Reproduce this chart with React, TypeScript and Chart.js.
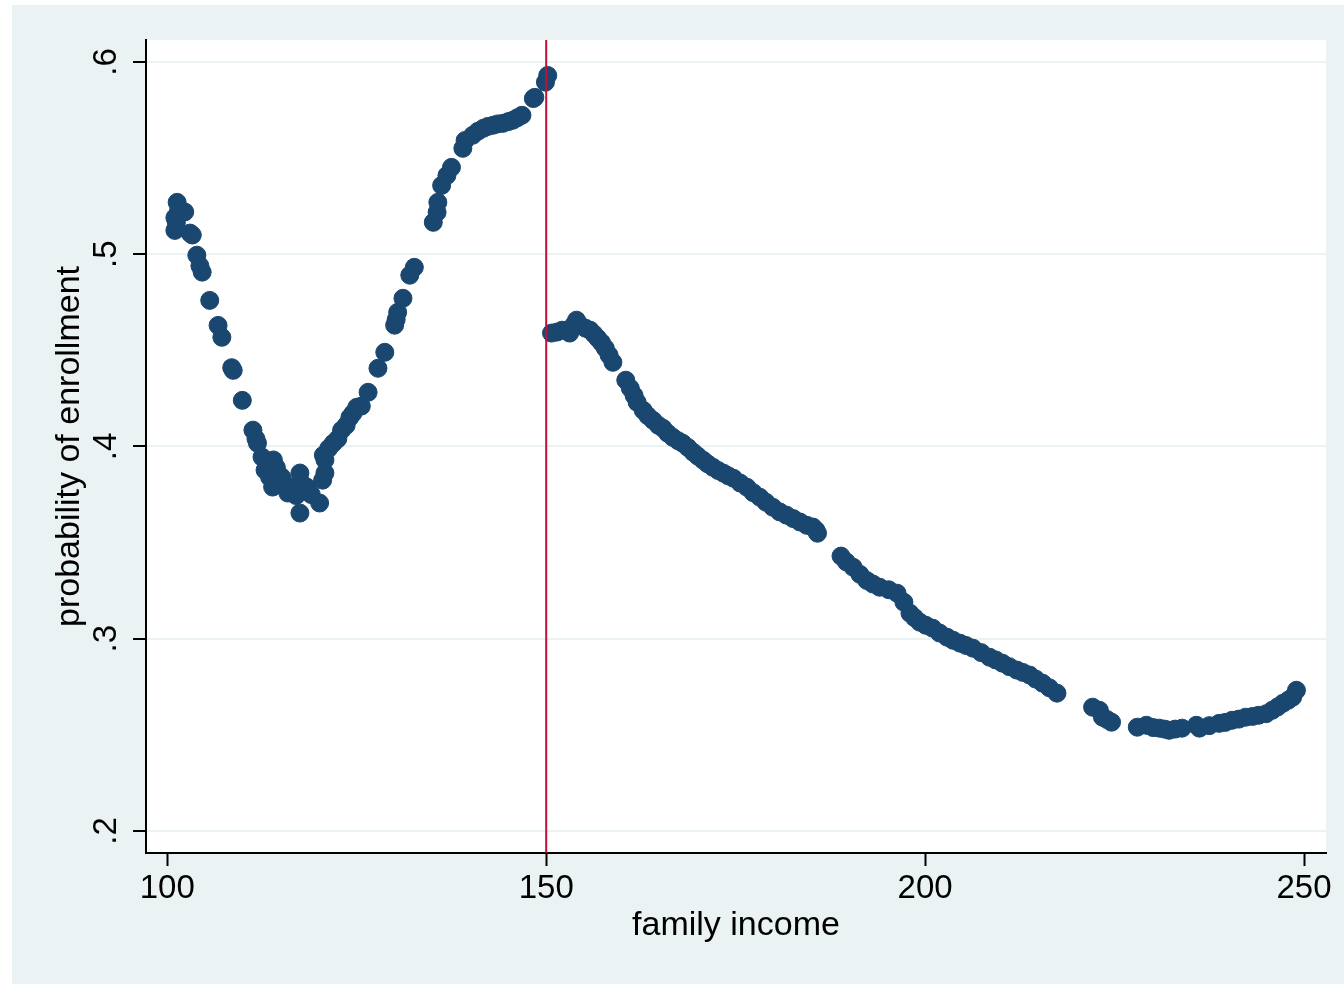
import React, { useEffect, useRef } from "react";
import { Chart, registerables } from "chart.js";

Chart.register(...registerables);

// Family income (x) and probability of enrollment (y), below the 150 cutoff
const incomeLeft = [
  101.0, 101.0, 101.2, 101.3, 101.5, 101.9, 102.3, 103.0, 103.3, 103.9, 104.3, 104.6,
  105.6, 106.7, 107.2, 108.5, 108.7, 109.9, 111.3, 111.7, 111.9, 112.5, 112.9, 113.5,
  113.9, 114.0, 114.4, 115.1, 115.5, 115.9, 116.5, 117.0, 117.5, 117.5, 117.7, 118.0,
  118.4, 119.0, 120.1, 120.5, 120.6, 120.8, 120.8, 121.3, 121.9, 122.5, 123.0, 123.6,
  124.1, 124.5, 125.0, 125.6, 126.5, 127.8, 128.7, 130.0, 130.2, 130.4, 131.1, 132.0,
  132.6, 135.1, 135.6, 135.7, 136.2, 136.9, 137.5, 139.0, 139.3, 140.3, 141.0, 141.7,
  142.3, 143.0, 143.6, 144.3, 145.0, 145.6, 146.2, 146.8, 148.3, 148.5, 149.9, 150.2,
];
const probLeft = [
  0.519, 0.5124, 0.5165, 0.527, 0.523, 0.5225, 0.522, 0.511, 0.51, 0.4995, 0.494, 0.4907,
  0.476, 0.463, 0.4568, 0.441, 0.4396, 0.424, 0.4085, 0.404, 0.4017, 0.3945, 0.3877, 0.384,
  0.3789, 0.393, 0.389, 0.3841, 0.38, 0.3758, 0.379, 0.3745, 0.3862, 0.3654, 0.381, 0.377,
  0.3789, 0.375, 0.3706, 0.3825, 0.3955, 0.3862, 0.393, 0.399, 0.4017, 0.404, 0.4085, 0.411,
  0.4152, 0.4173, 0.4204, 0.421, 0.4282, 0.4407, 0.449, 0.4631, 0.466, 0.4698, 0.4771, 0.4891,
  0.4932, 0.5166, 0.5218, 0.527, 0.5358, 0.541, 0.5452, 0.5551, 0.5592, 0.5619, 0.564, 0.5655,
  0.5665, 0.5671, 0.5678, 0.5681, 0.569, 0.5697, 0.571, 0.5723, 0.581, 0.5816, 0.5895, 0.593,
];

// Above the 150 cutoff
const incomeRight = [
  150.7, 151.4, 152.1, 152.7, 153.1, 153.6, 154.0, 154.5, 155.2, 155.8, 156.3, 156.8,
  157.3, 157.8, 158.3, 158.8, 160.5, 161.1, 161.6, 162.0, 162.8, 163.4, 164.1, 164.8,
  165.4, 166.0, 166.7, 167.4, 168.0, 168.7, 169.4, 170.0, 170.7, 171.3, 172.0, 172.7,
  173.4, 174.0, 174.7, 175.6, 176.5, 177.3, 178.2, 179.0, 179.9, 180.8, 181.7, 182.6,
  183.5, 184.4, 185.2, 185.6, 185.8, 188.9, 189.6, 190.5, 191.4, 192.3, 193.1, 194.0,
  195.2, 196.3, 197.2, 198.0, 198.6, 199.3, 200.1, 201.0, 201.9, 202.9, 203.7, 204.6,
  205.4, 206.3, 207.4, 208.5, 209.3, 210.2, 211.1, 212.1, 212.9, 213.8, 214.6, 215.5,
  216.4, 217.4, 222.1, 223.0, 223.4, 224.0, 224.6, 228.0, 229.2, 230.1, 230.9, 231.6,
  232.2, 233.0, 233.9, 235.8, 236.2, 237.5, 238.8, 239.6, 240.5, 241.4, 242.3, 243.2,
  244.0, 245.0, 245.8, 246.5, 247.2, 247.9, 248.5, 249.0,
];
const probRight = [
  0.459, 0.4595, 0.4605, 0.4605, 0.459, 0.463, 0.4657, 0.463, 0.4615, 0.4605, 0.4585, 0.4563,
  0.454, 0.4511, 0.4475, 0.4438, 0.4345, 0.4303, 0.4265, 0.423, 0.4188, 0.416, 0.4136, 0.411,
  0.4095, 0.407, 0.4048, 0.403, 0.4017, 0.3995, 0.397, 0.395, 0.3929, 0.391, 0.3892, 0.3875,
  0.3861, 0.3848, 0.3835, 0.381, 0.3788, 0.376, 0.3736, 0.371, 0.3684, 0.366, 0.3643, 0.3625,
  0.3607, 0.359, 0.3581, 0.3565, 0.3549, 0.343, 0.34, 0.3372, 0.3335, 0.3303, 0.3285, 0.3268,
  0.3255, 0.3237, 0.319, 0.3133, 0.311, 0.3086, 0.307, 0.3055, 0.303, 0.3008, 0.2992, 0.2977,
  0.2965, 0.2951, 0.2928, 0.2904, 0.289, 0.2873, 0.2855, 0.2837, 0.2825, 0.2811, 0.279, 0.2769,
  0.2745, 0.2717, 0.2644, 0.2628, 0.2592, 0.258, 0.2566, 0.254, 0.255, 0.2538, 0.2535, 0.253,
  0.2524, 0.253, 0.2535, 0.255, 0.2535, 0.2548, 0.256, 0.2565, 0.2576, 0.2582, 0.2592, 0.2596,
  0.2602, 0.261, 0.2628, 0.2645, 0.2664, 0.268, 0.2696, 0.2732,
];

const xTicks = [100, 150, 200, 250];
const yTicks = [0.2, 0.3, 0.4, 0.5, 0.6];
const yTickLabels = [".2", ".3", ".4", ".5", ".6"];
const cutoff = 150;
const xTitle = "family income";
const yTitle = "probability of enrollment";

const FONT = '"Liberation Sans", Arial, Helvetica, sans-serif';
const NAVY = "#1A476F";
const GRID = "#EAF2F3";
const BG = "#EAF2F3";
const RED = "#C20F35";

const framePlugin = {
  id: "frame",
  beforeDraw(chart: any) {
    const ctx = chart.ctx;
    const a = chart.chartArea;
    ctx.save();
    ctx.fillStyle = "#ffffff";
    ctx.fillRect(0, 0, chart.width, chart.height);
    ctx.fillStyle = BG;
    ctx.fillRect(12, 5, chart.width - 12, chart.height - 5);
    ctx.fillStyle = "#ffffff";
    ctx.fillRect(a.left, a.top, a.right - a.left, a.bottom - a.top);
    ctx.restore();
  },
  afterDatasetsDraw(chart: any) {
    const ctx = chart.ctx;
    const a = chart.chartArea;
    const x = chart.scales.x.getPixelForValue(cutoff);
    ctx.save();
    ctx.strokeStyle = RED;
    ctx.lineWidth = 2;
    ctx.beginPath();
    ctx.moveTo(x, a.top);
    ctx.lineTo(x, a.bottom);
    ctx.stroke();
    ctx.restore();
  },
  afterDraw(chart: any) {
    const ctx = chart.ctx;
    const a = chart.chartArea;
    const xs = chart.scales.x;
    const ys = chart.scales.y;
    ctx.save();
    ctx.fillStyle = "#000";
    ctx.font = `33px ${FONT}`;
    ctx.textAlign = "center";
    ctx.textBaseline = "alphabetic";
    xTicks.forEach((v) => {
      ctx.fillText(String(v), xs.getPixelForValue(v), 898);
    });
    yTicks.forEach((v, i) => {
      const py = ys.getPixelForValue(v);
      ctx.save();
      ctx.translate(116, py);
      ctx.rotate(-Math.PI / 2);
      ctx.fillText(yTickLabels[i], 0, 0);
      ctx.restore();
    });
    ctx.font = `34px ${FONT}`;
    ctx.fillText(xTitle, (a.left + a.right) / 2, 935);
    ctx.save();
    ctx.translate(79, (a.top + a.bottom) / 2);
    ctx.rotate(-Math.PI / 2);
    ctx.fillText(yTitle, 0, 0);
    ctx.restore();
    ctx.restore();
  },
};

export default function App() {
  const ref = useRef<HTMLCanvasElement | null>(null);
  useEffect(() => {
    if (!ref.current) return;
    const toPts = (xs: number[], ys: number[]) => xs.map((x, i) => ({ x, y: ys[i] }));
    const chart = new Chart(ref.current, {
      type: "scatter",
      data: {
        datasets: [
          {
            data: toPts(incomeLeft, probLeft),
            backgroundColor: NAVY,
            borderColor: NAVY,
            borderWidth: 1,
            pointRadius: 9,
            pointHoverRadius: 9,
          },
          {
            data: toPts(incomeRight, probRight),
            backgroundColor: NAVY,
            borderColor: NAVY,
            borderWidth: 1,
            pointRadius: 9,
            pointHoverRadius: 9,
          },
        ],
      },
      options: {
        responsive: false,
        animation: false,
        devicePixelRatio: 1,
        layout: { padding: { top: 40, right: 18, bottom: 0, left: 0 } },
        plugins: {
          legend: { display: false },
          tooltip: { enabled: false },
          title: { display: false },
        },
        scales: {
          x: {
            type: "linear",
            min: 97.19,
            max: 252.9,
            afterBuildTicks: (s: any) => {
              s.ticks = xTicks.map((v) => ({ value: v }));
            },
            afterFit: (s: any) => {
              s.height = 131;
            },
            ticks: { display: false },
            grid: {
              drawOnChartArea: false,
              drawTicks: true,
              tickLength: 13,
              tickColor: "#000",
              tickWidth: 2,
            },
            border: { display: true, color: "#000", width: 2 },
            title: { display: false },
          },
          y: {
            type: "linear",
            min: 0.18856,
            max: 0.61144,
            afterBuildTicks: (s: any) => {
              s.ticks = yTicks.map((v) => ({ value: v }));
            },
            afterFit: (s: any) => {
              s.width = 146;
            },
            ticks: { display: false },
            grid: {
              drawOnChartArea: true,
              color: GRID,
              lineWidth: 2,
              drawTicks: true,
              tickLength: 13,
              tickColor: "#000",
              tickWidth: 2,
            },
            border: { display: true, color: "#000", width: 2 },
            title: { display: false },
          },
        },
      },
      plugins: [framePlugin],
    } as any);
    return () => chart.destroy();
  }, []);
  return (
    <div style={{ position: "absolute", left: 0, top: 0, width: 1344, height: 984, background: "#fff" }}>
      <canvas ref={ref} width={1344} height={984} style={{ display: "block", width: 1344, height: 984 }} />
    </div>
  );
}
